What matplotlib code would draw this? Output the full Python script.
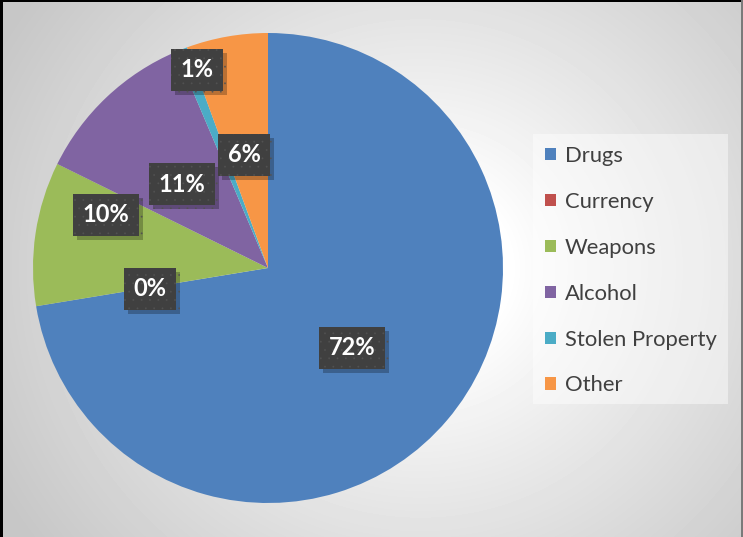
import numpy as np
import matplotlib.pyplot as plt
import matplotlib.patheffects as pe
from matplotlib.patches import Rectangle

# Daten
categories = ['Drugs', 'Currency', 'Weapons', 'Alcohol', 'Stolen Property', 'Other']
values = [72.4, 0.0, 9.9, 11.3, 0.8, 5.6]
labels = ['72%', '0%', '10%', '11%', '1%', '6%']
colors = ['#4f81bd', '#c0504d', '#9bbb59', '#8064a2', '#4bacc6', '#f79646']
# posicao dos rotulos (em unidades do raio, relativo ao centro)
label_pos = [(0.357, -0.340), (-0.502, -0.089), (-0.689, 0.226),
             (-0.366, 0.357), (-0.302, 0.843), (-0.102, 0.481)]

W, H = 743, 537
fig = plt.figure(figsize=(W / 100, H / 100), dpi=100)

# fundo com gradiente radial
bg = fig.add_axes([0, 0, 1, 1])
yy, xx = np.mgrid[0:H, 0:W]
d = np.sqrt(((xx - 420) / 1.0) ** 2 + ((yy - 268) / 0.95) ** 2)
t = np.clip((d - 90) / 390, 0, 1) ** 0.9
g = 1.0 - t * (1.0 - 0.78)
bg.imshow(g, cmap='gray', vmin=0, vmax=1, extent=[0, W, H, 0], aspect='auto')
bg.set_xlim(0, W)
bg.set_ylim(H, 0)
bg.axis('off')

# painel da legenda
bg.add_patch(Rectangle((533, 134), 195, 270, facecolor='white', alpha=0.45, lw=0))

# bordas
bg.add_patch(Rectangle((0, 0), 3, H, facecolor='black', lw=0))
bg.add_patch(Rectangle((0, 0), W, 1.5, facecolor='black', lw=0))
bg.add_patch(Rectangle((741, 0), 2, H, facecolor='#7a7a7a', lw=0))

# pizza
R = 235
cx, cy = 268, 268
ax = fig.add_axes([(cx - R) / W, (H - cy - R) / H, 2 * R / W, 2 * R / H])
wedges, _ = ax.pie(values, colors=colors, startangle=90, counterclock=False,
                   radius=1.0)
ax.set_xlim(-1, 1)
ax.set_ylim(-1, 1)
ax.set_aspect('equal')
ax.axis('off')

plt.rcParams['hatch.linewidth'] = 0.1
for lab, (px, py) in zip(labels, label_pos):
    t = ax.text(px, py, lab, ha='center', va='center', color='white',
                fontsize=17, fontweight='bold', family='Lato',
                bbox=dict(boxstyle='square,pad=0.4', facecolor='#404040',
                          edgecolor='#525252', hatch='..', linewidth=0))
    t.get_bbox_patch().set_path_effects([
        pe.SimplePatchShadow(offset=(3, -3), shadow_rgbFace='black', alpha=0.25),
        pe.Normal()])

# legenda
handles = [Rectangle((0, 0), 1, 1, facecolor=c, lw=0) for c in colors]
leg = fig.legend(handles, categories, loc='upper left',
                 bbox_to_anchor=(545 / W, 1 - 146 / H), frameon=False,
                 prop={'family': 'Lato', 'size': 15.8}, labelcolor='#404040',
                 handlelength=0.5, handleheight=0.5, handletextpad=0.4,
                 labelspacing=1.18, borderaxespad=0, borderpad=0)

fig.savefig('out.png', dpi=100)
